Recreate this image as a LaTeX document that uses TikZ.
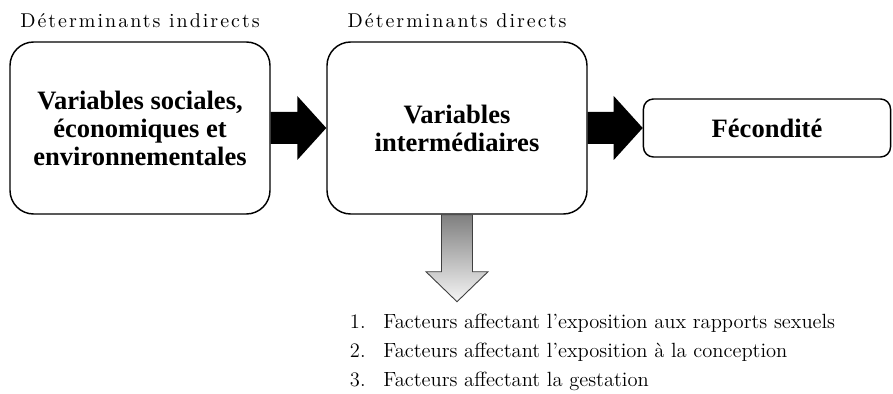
\documentclass[tikz,border=0pt]{standalone}
\usepackage{fontspec}
\setmainfont{Latin Modern Roman}
\newfontfamily\boxfont{Liberation Serif}
\usetikzlibrary{positioning, calc}

\begin{document}
\begin{tikzpicture}[x=0.55pt, y=-0.55pt,
          bloc/.style={draw, rounded corners=13pt, line width=0.8pt, align=center,
            minimum width=143pt, minimum height=94.6pt,
            font=\boxfont\bfseries\fontsize{14.6}{15.4}\selectfont},
          titre/.style={inner sep=0pt, font=\addfontfeature{LetterSpace=10}\fontsize{11}{13}\selectfont},
          liste/.style={inner sep=0pt, font=\fontsize{11.3}{13}\selectfont}
        ]
        \useasboundingbox (0,0) rectangle (893,394);
        % les trois cadres
        \node[bloc] (vsoc) at (140,128) {Variables sociales,\\ économiques et\\ environnementales};
        \node[bloc] (vint) at (457,128) {Variables\\ intermédiaires};
        \node[bloc, rounded corners=5.5pt, minimum width=135.9pt, minimum height=31.9pt] (fec) at (767,128) {Fécondité};
        \node[titre, above=7pt of vsoc] (tind) {Déterminants indirects};
        \node[titre, above=7pt of vint] (tdir) {Déterminants directs};
        % fleches noires
        \fill ($(vsoc.east)+(0,-16)$) -- ($(vint.west)+(-29,-16)$) -- ($(vint.west)+(-29,-32)$) -- (vint.west)
          -- ($(vint.west)+(-29,32)$) -- ($(vint.west)+(-29,16)$) -- ($(vsoc.east)+(0,16)$) -- cycle;
        \fill ($(vint.east)+(0,-16)$) -- ($(fec.west)+(-29,-16)$) -- ($(fec.west)+(-29,-32)$) -- (fec.west)
          -- ($(fec.west)+(-29,32)$) -- ($(fec.west)+(-29,16)$) -- ($(vint.east)+(0,16)$) -- cycle;
        % fleche grise
        \draw[black!75, line width=0.5pt, top color=black!50, bottom color=black!4]
          ($(vint.south)+(-15.5,0)$) -- ++(0,57) -- ++(-15.5,0) -- ++(31,30) -- ++(31,-30) -- ++(-15.5,0) -- ++(0,-57) -- cycle;
        \foreach \txt [count=\k] in {Facteurs affectant l'exposition aux rapports sexuels,
            Facteurs affectant l'exposition à la conception,
            Facteurs affectant la gestation}{
          \node[liste, anchor=base east] (n\k) at (366,300.5+28.5*\k) {\k.};
          \node[liste, anchor=base west] (f\k) at (383,300.5+28.5*\k) {\txt};
        }
      \end{tikzpicture}
\end{document}
